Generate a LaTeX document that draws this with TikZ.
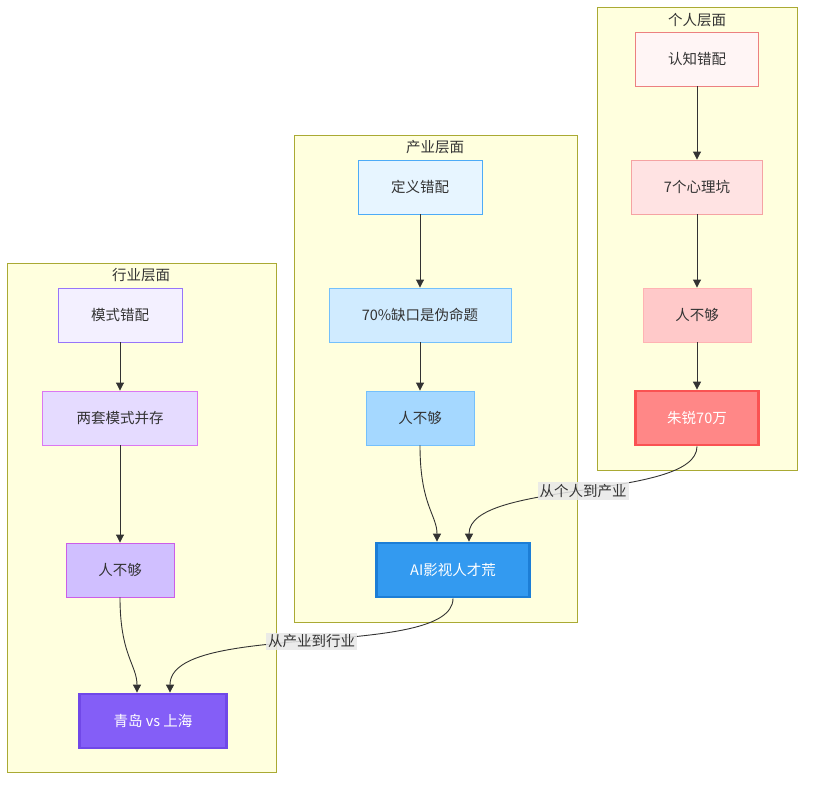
\documentclass[tikz,border=0pt]{standalone}
\usepackage{fontspec}
\setmainfont{Noto Sans CJK SC}
\usetikzlibrary{arrows.meta,calc}

\definecolor{zonefill}{HTML}{FFFFDE}
\definecolor{zoneline}{HTML}{AAAA33}
\definecolor{inkgray}{HTML}{333333}
\definecolor{tagfill}{HTML}{E8E8E8}

\tikzset{
	zone/.style={draw=zoneline, fill=zonefill, line width=0.8pt},
	zonetitle/.style={text=inkgray, font=\fontsize{14.5}{17}\selectfont},
	box/.style={draw, rectangle, minimum height=54pt, line width=0.9pt, text=inkgray, font=\fontsize{14.5}{17}\selectfont},
	hotbox/.style={box, line width=2.8pt, text=white},
	link/.style={draw=inkgray, line width=0.9pt, -{Triangle[length=8pt,width=8pt]}},
	tag/.style={fill=tagfill, fill opacity=0.85, text opacity=1, text=inkgray, inner sep=2pt, font=\fontsize{14.5}{17}\selectfont}
}

\begin{document}
\begin{tikzpicture}[x=1pt, y=-1pt]
		%%%%% START %%%%%
		\useasboundingbox (0,0) rectangle (813,788);
		
		% three layers
		\draw[zone] (597,7) rectangle (797,470);
		\draw[zone] (294,135) rectangle (577,622);
		\draw[zone] (7,263) rectangle (276,772);
		\node[zonetitle] (perT) at (697,20) {个人层面};
		\node[zonetitle] (indT) at (435,147) {产业层面};
		\node[zonetitle] (trdT) at (141,275) {行业层面};
		
		% personal
		\node[box, fill={rgb,255:red,255;green,245;blue,245}, draw={rgb,255:red,236;green,128;blue,128}, minimum width=123pt] (perA) at (697,59) {认知错配};
		\node[box, fill={rgb,255:red,255;green,227;blue,227}, draw={rgb,255:red,245;green,163;blue,163}, minimum width=131pt] (perB) at (697,187) {7个心理坑};
		\node[box, fill={rgb,255:red,255;green,201;blue,201}, draw={rgb,255:red,255;green,179;blue,179}, minimum width=108pt] (perC) at (697,315) {人不够};
		\node[hotbox, fill={rgb,255:red,255;green,135;blue,135}, draw={rgb,255:red,250;green,82;blue,82}, minimum width=123pt] (perD) at (697,418) {朱锐70万};
		
		% industry
		\node[box, fill={rgb,255:red,231;green,245;blue,255}, draw={rgb,255:red,77;green,171;blue,247}, minimum width=124pt] (indA) at (420,187) {定义错配};
		\node[box, fill={rgb,255:red,208;green,235;blue,255}, draw={rgb,255:red,116;green,192;blue,252}, minimum width=182pt] (indB) at (420,315) {70\%缺口是伪命题};
		\node[box, fill={rgb,255:red,165;green,216;blue,255}, draw={rgb,255:red,116;green,192;blue,252}, minimum width=108pt] (indC) at (420,418) {人不够};
		\node[hotbox, fill={rgb,255:red,51;green,154;blue,240}, draw={rgb,255:red,28;green,126;blue,214}, minimum width=153pt] (indD) at (453,570) {AI影视人才荒};
		
		% trade
		\node[box, fill={rgb,255:red,243;green,240;blue,255}, draw={rgb,255:red,151;green,117;blue,250}, minimum width=124pt] (trdA) at (120,315) {模式错配};
		\node[box, fill={rgb,255:red,229;green,219;blue,255}, draw={rgb,255:red,218;green,119;blue,242}, minimum width=155pt] (trdB) at (120,418) {两套模式并存};
		\node[box, fill={rgb,255:red,208;green,191;blue,255}, draw={rgb,255:red,204;green,93;blue,232}, minimum width=108pt] (trdC) at (120,570) {人不够};
		\node[hotbox, fill={rgb,255:red,132;green,94;blue,247}, draw={rgb,255:red,112;green,72;blue,232}, minimum width=147pt] (trdD) at (153,721) {青岛 vs 上海};
		
		% chains
		\draw[link] (perA) -- (perB);
		\draw[link] (perB) -- (perC);
		\draw[link] (perC) -- (perD);
		\draw[link] (indA) -- (indB);
		\draw[link] (indB) -- (indC);
		\draw[link] (trdA) -- (trdB);
		\draw[link] (trdB) -- (trdC);
		
		\draw[link] (indC.south) .. controls (420,505) and (437,515) .. ($(indD.north)+(-16,0)$);
		\draw[link] (trdC.south) .. controls (120,655) and (137,665) .. ($(trdD.north)+(-16,0)$);
		
		% across layers
		\draw[link] (perD.south) .. controls (697,500) and (469,480) .. node[tag] (perTag) {从个人到产业} ($(indD.north)+(16,0)$);
		\draw[link] (indD.south) .. controls (453,660) and (170,620) .. node[tag] (indTag) {从产业到行业} ($(trdD.north)+(17,0)$);
		%%%%% END %%%%%
	\end{tikzpicture}
\end{document}
